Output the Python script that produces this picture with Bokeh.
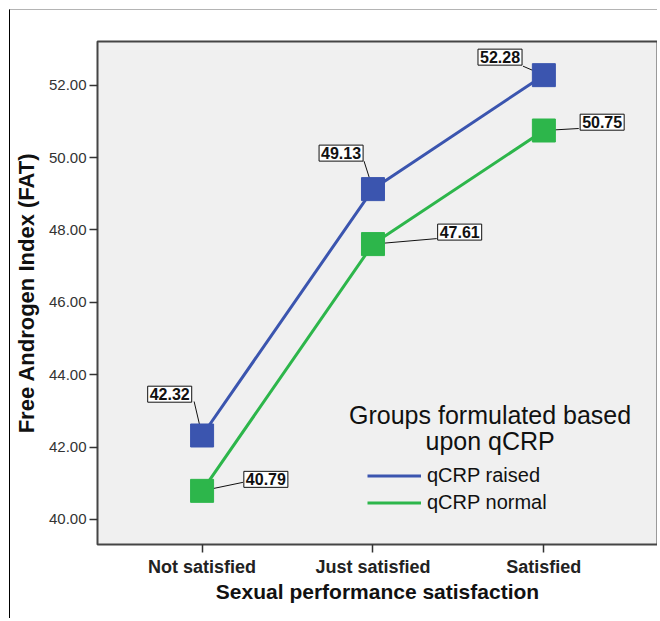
from bokeh.plotting import figure
from bokeh.models import FixedTicker, Legend, LegendItem, Label, PrintfTickFormatter
from bokeh.embed import file_html
from bokeh.resources import INLINE
from bokeh.core.properties import value

# ---------------- data ----------------
categories = ["Not satisfied", "Just satisfied", "Satisfied"]
raised = [42.32, 49.13, 52.28]
normal = [40.79, 47.61, 50.75]
y_ticks = [40, 42, 44, 46, 48, 50, 52]
series_names = ["qCRP raised", "qCRP normal"]
legend_title = ["Groups formulated based", "upon qCRP"]
x_title = "Sexual performance satisfaction"
y_title = "Free Androgen Index (FAT)"

# ---------------- layout / style ----------------
W, H = 648, 609
ML, MR, MT, MB = 85, 1, 31, 75
FW, FH = W - ML - MR, H - MT - MB
X0, X1 = -0.612, 2.665
Y0, Y1 = 39.307, 53.21
xpu = FW / (X1 - X0)
ypu = FH / (Y1 - Y0)

BLUE = "#3B55AF"
GREEN = "#2DB64B"
FONT = "Liberation Sans"

# pixel offsets (screen, +down) of the value boxes and of the leader ends
lab_off = {
    "raised": [(-32.5, -41.3), (-32, -36), (-44, -18)],
    "normal": [(64, -11.5), (87, -12), (58.5, -8.3)],
}
lead_off = {
    "raised": [(-8, -34), (-9, -28), (-21, -9)],
    "normal": [(41, -8.5), (64, -5.5), (35, -2)],
}

xs = list(range(len(categories)))

p = figure(width=W, height=H, output_backend="svg", toolbar_location=None,
           x_range=(X0, X1), y_range=(Y0, Y1),
           min_border_left=ML, min_border_right=MR, min_border_top=MT, min_border_bottom=MB)
p.styles = {"border-top": "1px solid #b4b4b4", "border-left": "1px solid #000000",
            "margin-left": "9px", "margin-top": "9px"}
p.background_fill_color = "#F0F0F0"
p.border_fill_color = "white"
p.outline_line_color = "#454545"
p.outline_line_width = 2
p.xgrid.visible = False
p.ygrid.visible = False

# axes
p.yaxis.ticker = FixedTicker(ticks=y_ticks)
p.yaxis.formatter = PrintfTickFormatter(format="%.2f")
p.xaxis.ticker = FixedTicker(ticks=xs)
p.xaxis.major_label_overrides = {i: c for i, c in enumerate(categories)}
for ax in (p.xaxis, p.yaxis):
    ax.axis_line_color = None
    ax.major_tick_out = 8
    ax.major_tick_in = 0
    ax.minor_tick_line_color = None
    ax.major_tick_line_color = "#333333"
    ax.major_tick_line_width = 1.5
    ax.axis_label_text_font = FONT
    ax.axis_label_text_font_style = "bold"
    ax.axis_label_text_color = "#111111"
    ax.major_label_text_font = FONT
p.yaxis.major_label_text_font_size = "15px"
p.yaxis.major_label_text_color = "#333333"
p.yaxis.major_label_standoff = 3
p.yaxis.axis_label = y_title
p.yaxis.axis_label_text_font_size = "22px"
p.yaxis.axis_label_standoff = 7
p.xaxis.major_label_text_font_size = "18px"
p.xaxis.major_label_text_font_style = "bold"
p.xaxis.major_label_text_color = "#222222"
p.xaxis.major_label_standoff = 4
p.xaxis.axis_label = x_title
p.xaxis.axis_label_text_font_size = "21px"
p.xaxis.axis_label_standoff = 0

# lines + markers
r_raised = p.line(xs, raised, line_color=BLUE, line_width=3)
r_normal = p.line(xs, normal, line_color=GREEN, line_width=3)

for key, vals in (("raised", raised), ("normal", normal)):
    # leader lines
    x_end = [x + dx / xpu for x, (dx, dy) in zip(xs, lead_off[key])]
    y_end = [y - dy / ypu for y, (dx, dy) in zip(vals, lead_off[key])]
    p.segment(x0=xs, y0=vals, x1=x_end, y1=y_end, line_color="#111111", line_width=1)

p.scatter(xs, raised, marker="square", size=23, fill_color=BLUE, line_color=BLUE)
p.scatter(xs, normal, marker="square", size=23, fill_color=GREEN, line_color=GREEN)

for key, vals in (("raised", raised), ("normal", normal)):
    lx = [x + dx / xpu for x, (dx, dy) in zip(xs, lab_off[key])]
    ly = [y - dy / ypu for y, (dx, dy) in zip(vals, lab_off[key])]
    p.text(x=lx, y=ly, text=[f"{v:.2f}" for v in vals],
           text_font=value(FONT), text_font_size="16px", text_font_style="bold",
           text_color="#111111", text_align="center", text_baseline="middle",
           background_fill_color="white", border_line_color="#111111", border_line_width=1,
           padding=2)

# legend
legend = Legend(items=[LegendItem(label=series_names[0], renderers=[r_raised]),
                       LegendItem(label=series_names[1], renderers=[r_normal])],
                location=(270, 28), orientation="vertical",
                background_fill_alpha=0, border_line_alpha=0,
                padding=0, margin=0, spacing=0,
                glyph_width=54, glyph_height=27, label_height=27, label_standoff=6,
                label_text_font=FONT, label_text_font_size="20px", label_text_color="#111111")
p.add_layout(legend)

for i, t in enumerate(legend_title):
    px_top = 373 + i * 26
    p.add_layout(Label(x=X0 + 394 / xpu, y=Y1 - px_top / ypu, text=t,
                       text_align="center", text_baseline="middle",
                       text_font=FONT, text_font_size="25px", text_color="#111111"))

open("out.html", "w").write(file_html(p, INLINE))
